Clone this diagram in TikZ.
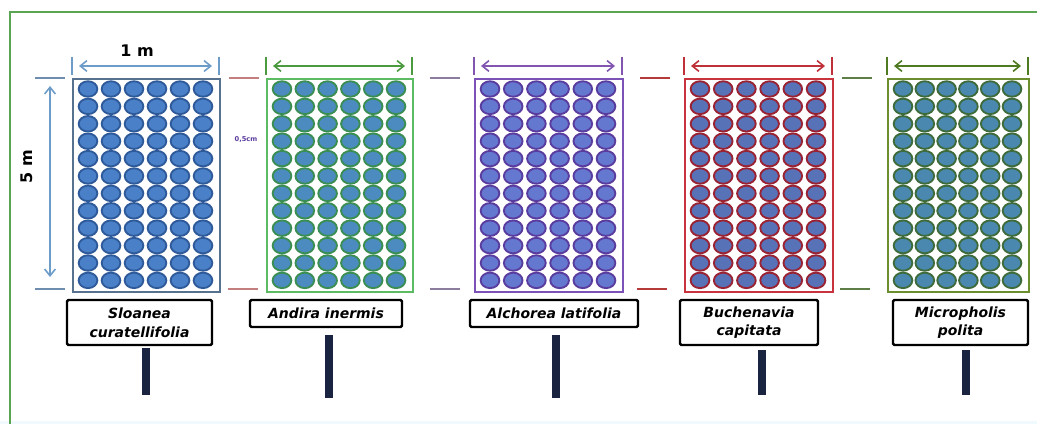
\documentclass[tikz,border=0pt]{standalone}
\usepackage{fontspec}
\setmainfont{DejaVu Sans}[BoldFont=DejaVu Sans Bold, ItalicFont=DejaVu Sans Oblique, BoldItalicFont=DejaVu Sans Bold Oblique]
\usetikzlibrary{arrows.meta}
\definecolor{framegreen}{HTML}{5AA552}
\definecolor{postc}{HTML}{1A2340}
% plot borders
\definecolor{bc1}{HTML}{56728F}
\definecolor{bc2}{HTML}{5DBB63}
\definecolor{bc3}{HTML}{7C52B8}
\definecolor{bc4}{HTML}{C8333D}
\definecolor{bc5}{HTML}{6B8E2E}
% dot fill
\definecolor{df1}{HTML}{4A80C8}
\definecolor{df2}{HTML}{4B8BC0}
\definecolor{df3}{HTML}{6478D0}
\definecolor{df4}{HTML}{5872B8}
\definecolor{df5}{HTML}{4A88B0}
% dot outline
\definecolor{do1}{HTML}{2F5A9A}
\definecolor{do2}{HTML}{3A8E52}
\definecolor{do3}{HTML}{5A3C9E}
\definecolor{do4}{HTML}{9A2333}
\definecolor{do5}{HTML}{3E6B3A}
% width arrows
\definecolor{ar1}{HTML}{6E9CC9}
\definecolor{ar2}{HTML}{4B9A40}
\definecolor{ar3}{HTML}{8256B0}
\definecolor{ar4}{HTML}{C03038}
\definecolor{ar5}{HTML}{4E7A22}
% side dashes
\definecolor{tk1}{HTML}{6F8DAE}
\definecolor{tk2}{HTML}{C47E7E}
\definecolor{tk3}{HTML}{8C7C9E}
\definecolor{tk4}{HTML}{B53A3A}
\definecolor{tk5}{HTML}{5E7E48}
\begin{document}
\begin{tikzpicture}[x=0.75pt,y=-0.75pt,
  plotbox/.style={draw, line width=1.6pt, inner sep=0pt, anchor=north west, minimum height=213*0.75pt},
  dotc/.style={line width=1.4pt},
  warrow/.style={line width=1.2pt, {Straight Barb[length=5pt,width=8pt]}-{Straight Barb[length=5pt,width=8pt]}},
  tickmark/.style={line width=1.8pt},
  dashmark/.style={line width=1.8pt},
  labbox/.style={draw=black, line width=1.8pt, fill=white, rounded corners=1pt, font=\bfseries\itshape\fontsize{10.5}{14}\selectfont, align=center, inner sep=0pt},
  post/.style={fill=postc, minimum width=6pt, inner sep=0pt},
  dimlabel/.style={font=\bfseries\fontsize{12}{14}\selectfont, inner sep=0pt}
]
\useasboundingbox (0,0) rectangle (1037,424);
\fill[white] (0,0) rectangle (1037,424);
\fill[cyan!6] (0,421) rectangle (1037,424);
% frame
\draw[framegreen, line width=2pt] (10,424) -- (10,12) -- (1037,12);

% plots
\foreach \i/\L/\W/\dt/\db in {1/72/147/35/35, 2/266/146/229/228, 3/474/148/430/430, 4/684/148/640/637, 5/887/141/842/840}{
  \node[plotbox, draw=bc\i, minimum width=\W*0.75pt] (plot\i) at (\L,78) {};
  \foreach \c in {0,...,5}{
    \foreach \r in {0,...,11}{
      \draw[dotc, draw=do\i, fill=df\i] ({\L+16+\c*(\W-32)/5},{89+\r*17.4}) ellipse [x radius=7pt, y radius=5.8pt];
    }
  }
  % width dimension
  \draw[tickmark, ar\i] (\L,57) -- (\L,75);
  \draw[tickmark, ar\i] ({\L+\W},57) -- ({\L+\W},75);
  \coordinate (wl\i) at ({\L+7},66);
  \coordinate (wr\i) at ({\L+\W-7},66);
  \draw[warrow, ar\i] (wl\i) -- (wr\i);
  % side dashes
  \draw[dashmark, tk\i] (\dt,78) -- ({\dt+30},78);
  \draw[dashmark, tk\i] (\db,289) -- ({\db+30},289);
}

% 5 m arrow
\coordinate (vt) at (50,86);
\coordinate (vb) at (50,277);
\draw[warrow, ar1] (vt) -- (vb);
\node[dimlabel, rotate=90] (fivem) at (27,167) {5 m};
\node[dimlabel] (onem) at (137,51) {1 m};
\node[font=\bfseries\fontsize{5}{6}\selectfont, text=do3, inner sep=0pt] (gap) at (246,139) {0,5cm};

% labels
\node[labbox, minimum width=145*0.75pt, minimum height=45*0.75pt] (lab1) at (139.5,322.5) {Sloanea\\curatellifolia};
\node[labbox, minimum width=152*0.75pt, minimum height=27*0.75pt] (lab2) at (326,313.5) {Andira inermis};
\node[labbox, minimum width=168*0.75pt, minimum height=27*0.75pt] (lab3) at (554,313.5) {Alchorea latifolia};
\node[labbox, minimum width=138*0.75pt, minimum height=45*0.75pt] (lab4) at (749,322.5) {Buchenavia\\capitata};
\node[labbox, minimum width=135*0.75pt, minimum height=45*0.75pt] (lab5) at (960.5,322.5) {Micropholis\\polita};

% posts
\node[post, minimum height=47*0.75pt] (post1) at (146,371.5) {};
\node[post, minimum height=63*0.75pt] (post2) at (329,366.5) {};
\node[post, minimum height=63*0.75pt] (post3) at (556,366.5) {};
\node[post, minimum height=45*0.75pt] (post4) at (762,372.5) {};
\node[post, minimum height=45*0.75pt] (post5) at (966,372.5) {};
\end{tikzpicture}
\end{document}
